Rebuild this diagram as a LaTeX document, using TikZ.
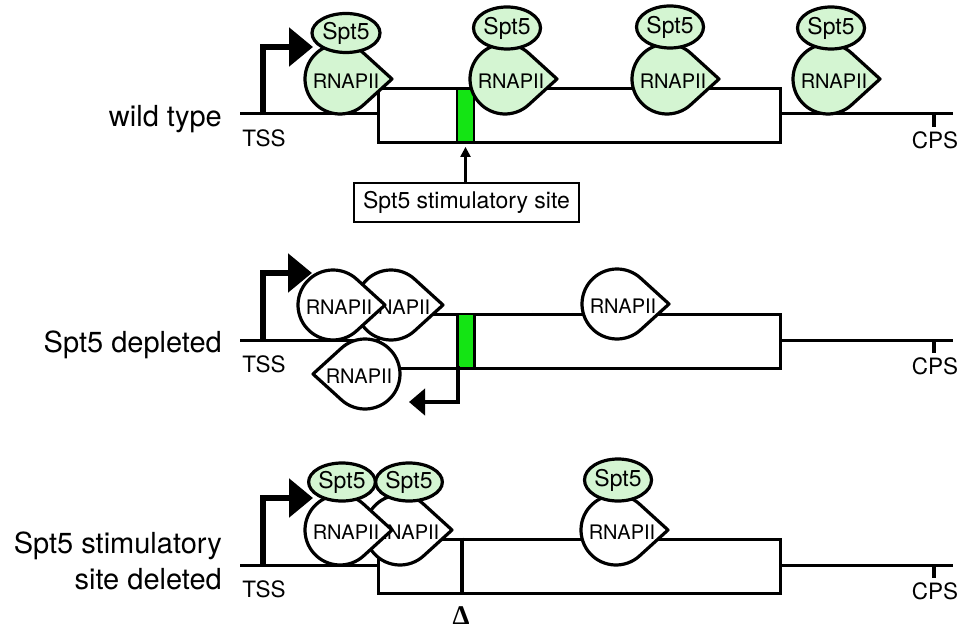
\documentclass[tikz,border=0pt]{standalone}
\usepackage{fontspec}
\setmainfont{TeX Gyre Heros}
\newfontfamily\deltafont{Liberation Serif}
\usetikzlibrary{arrows.meta,shapes.geometric}
\definecolor{spgreen}{RGB}{212,245,210}
\definecolor{sitegreen}{RGB}{20,228,20}
\tikzset{
  dna/.style={line width=3pt},
  genebox/.style={rectangle, draw, line width=3pt, fill=white, inner sep=0pt, minimum width=402pt, minimum height=54pt},
  sitebox/.style={rectangle, draw, line width=2.8pt, fill=sitegreen, inner sep=0pt, minimum width=17pt, minimum height=54pt},
  polshape/.style={draw, line width=3.2pt, line join=round},
  spt/.style={ellipse, draw, line width=3.2pt, fill=spgreen, minimum width=67pt, minimum height=42pt, inner sep=0pt, font=\fontsize{23}{23}\selectfont},
  rnatext/.style={font=\fontsize{20}{20}\selectfont, inner sep=0pt},
  small/.style={font=\fontsize{22.5}{22.5}\selectfont, inner sep=0pt},
  biglabel/.style={font=\fontsize{29}{36}\selectfont, inner sep=0pt, align=right},
  promoter/.style={line width=5.5pt, -{Triangle[length=24pt,width=38pt]}},
  antisense/.style={line width=4.5pt, -{Triangle[length=16pt,width=26pt]}},
  stimarrow/.style={line width=2.2pt, -{Triangle[length=10pt,width=10pt]}, shorten >=3pt},
  stimlabel/.style={rectangle, draw, line width=2.4pt, fill=white, minimum width=225pt, minimum height=39pt, inner sep=0pt, font=\fontsize{23}{23}\selectfont},
  tick/.style={line width=3.2pt},
  pol/.pic={
    \path[polshape, fill=#1] (52pt,0pt) -- (-47.7:35pt) arc[start angle=-47.7, end angle=-312.3, radius=35pt] -- cycle;
    \node[rnatext] (-t) at (6pt,-2pt) {RNAPII};
  },
}
\begin{document}
\begin{tikzpicture}[x=1pt,y=-1pt]
\useasboundingbox (0,0) rectangle (965,628);

% ---------------- Row 1: wild type ----------------
\node[biglabel, anchor=base east] (lab1) at (222,127) {wild type};
\coordinate (s1) at (240,114);
\coordinate (e1) at (953,114);
\node[genebox] (box1) at (579,115.5) {};
\draw[dna] (s1) -- (box1.west |- s1);
\draw[dna] (box1.east |- e1) -- (e1);
\coordinate (cps1) at (934,114);
\draw[tick] (cps1) -- ++(0,13);
\node[small] (tss1t) at (264,138) {TSS};
\node[small] (cps1t) at (935,140) {CPS};
\node[sitebox] (site1) at (465.5,115.5) {};
\coordinate (p1) at (263,115.5);
\draw[promoter] (p1) |- (313,47);
\node[stimlabel] (stim) at (466.5,202.5) {Spt5 stimulatory site};
\draw[stimarrow] (stim.north -| site1) -- (site1.south);

\pic (pA) at (340,79) {pol=spgreen};
\node[spt, minimum width=68pt, minimum height=39pt] (sA) at (346,33) {Spt5};
\pic (pB) at (505,79) {pol=spgreen};
\node[spt] (sB) at (507,28) {Spt5};
\pic (pC) at (667,79) {pol=spgreen};
\node[spt] (sC) at (670,27) {Spt5};
\pic (pD) at (828,79) {pol=spgreen};
\node[spt] (sD) at (831,28) {Spt5};

% ---------------- Row 2: Spt5 depleted ----------------
\node[biglabel, anchor=base east] (lab2) at (222,352) {Spt5 depleted};
\coordinate (s2) at (240,340);
\coordinate (e2) at (953,340);
\node[genebox] (box2) at (579,341) {};
\draw[dna] (s2) -- (box2.west |- s2);
\draw[dna] (box2.east |- e2) -- (e2);
\coordinate (cps2) at (934,340);
\draw[tick] (cps2) -- ++(0,13);
\node[small] (tss2t) at (264,364) {TSS};
\node[small] (cps2t) at (935,366) {CPS};
\node[sitebox] (site2) at (466,341) {};
\coordinate (p2) at (263,341.5);
\draw[promoter] (p2) |- (312,273);

\pic (qB) at (391,305) {pol=white};
\pic (qA) at (333,305) {pol=white};
\pic (qC) at (617,304) {pol=white};
\pic[xscale=-1] (qR) at (365,374) {pol=white};
\coordinate (as) at (458,366);
\draw[antisense] (as) |- (409,402);

% ---------------- Row 3: Spt5 stimulatory site deleted ----------------
\node[biglabel, anchor=east] (lab3) at (222,561) {Spt5 stimulatory\\site deleted};
\coordinate (s3) at (240,565);
\coordinate (e3) at (953,565);
\node[genebox] (box3) at (579,566) {};
\draw[dna] (s3) -- (box3.west |- s3);
\draw[dna] (box3.east |- e3) -- (e3);
\coordinate (cps3) at (934,565);
\draw[tick] (cps3) -- ++(0,13);
\node[small] (tss3t) at (264,589) {TSS};
\node[small] (cps3t) at (935,591) {CPS};
\coordinate (del) at (462,566);
\draw[line width=3.2pt] (box3.north -| del) -- (box3.south -| del);
\node[font=\deltafont\bfseries\fontsize{27}{27}\selectfont, inner sep=0pt, anchor=base] (delta) at (461,624) {Δ};
\coordinate (p3) at (263,566.5);
\draw[promoter] (p3) |- (313,498);

\pic (rB) at (400,530) {pol=white};
\node[spt, minimum width=62pt, minimum height=38pt] (tB) at (409,482) {Spt5};
\pic (rA) at (340,530) {pol=white};
\node[spt, minimum width=62pt, minimum height=38pt] (tA) at (342,482) {Spt5};
\pic (rC) at (616,530) {pol=white};
\node[spt] (tC) at (618,480) {Spt5};
\end{tikzpicture}
\end{document}
